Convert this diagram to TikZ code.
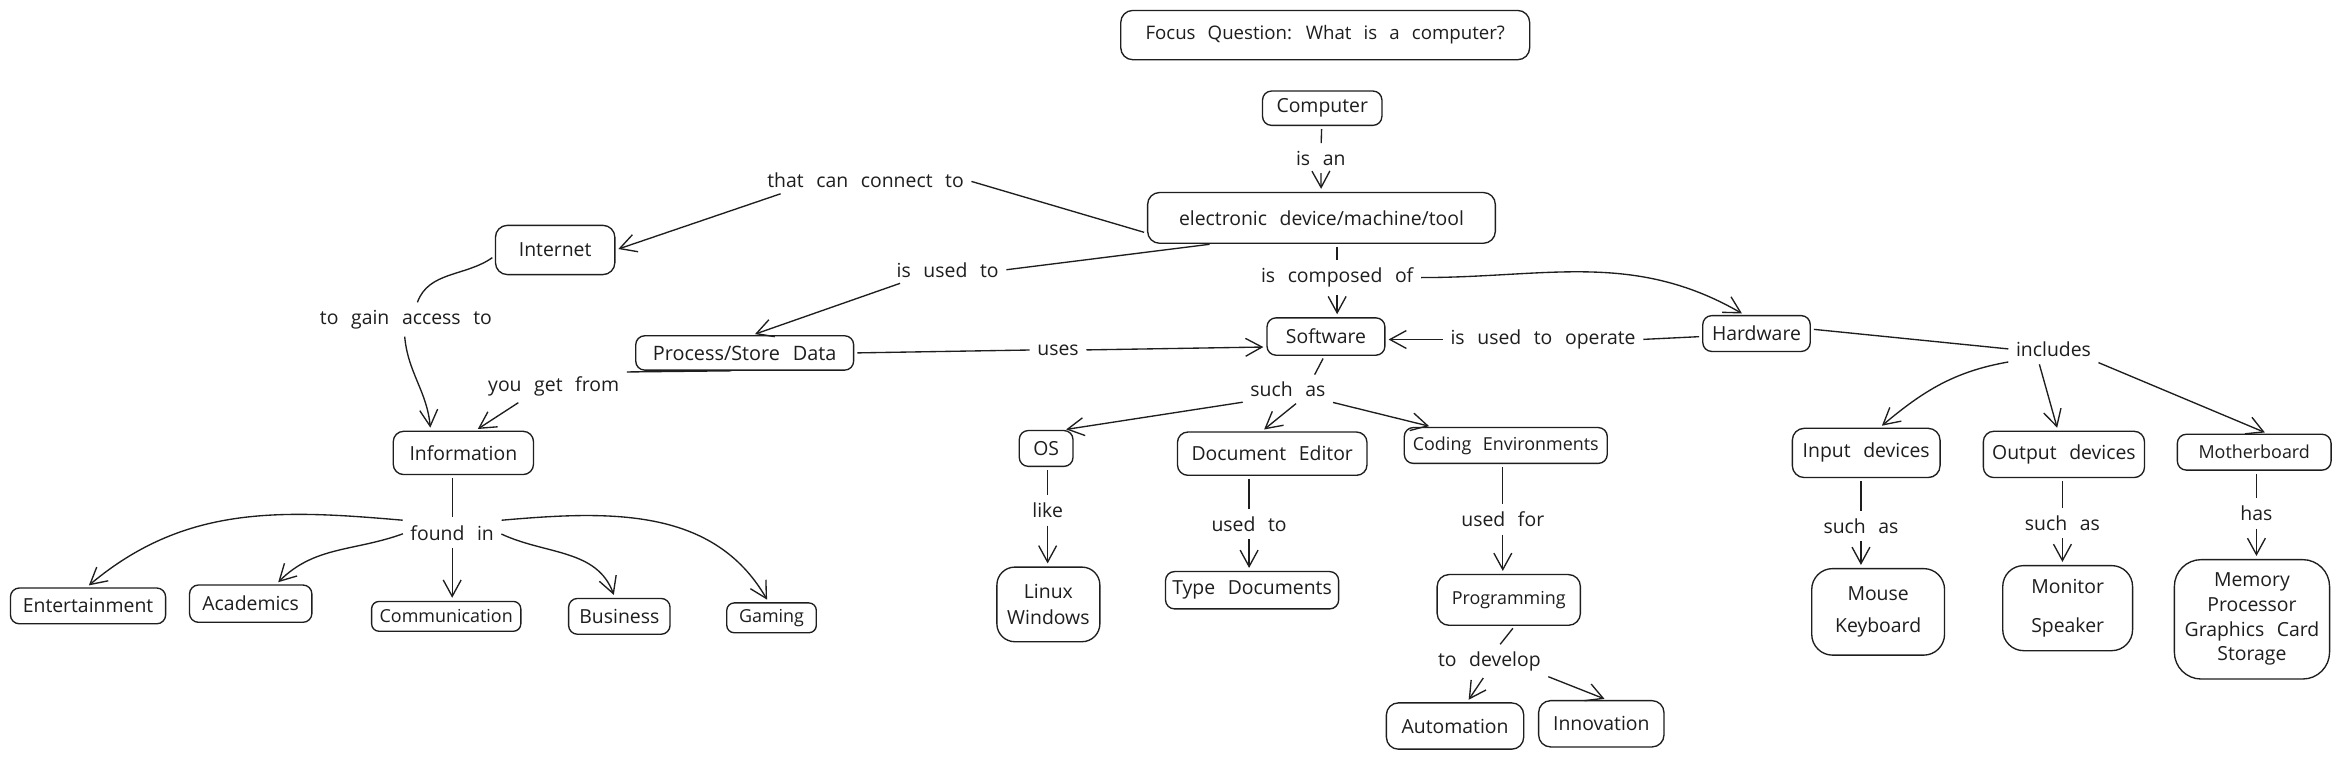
\documentclass[tikz,border=0pt]{standalone}
\usepackage{fontspec}
\setmainfont{Open Sans}
\usetikzlibrary{arrows.meta}
\definecolor{ink}{HTML}{1E1E1E}
\newcommand\myfs[1]{\fontsize{#1}{17}\selectfont\spaceskip=0.65em\relax}
\newcommand\memfs{\fontsize{13}{16.5}\selectfont\spaceskip=0.65em\relax}
\begin{document}
\begin{tikzpicture}[x=1pt,y=-1pt,
  font=\myfs{13},
  bx/.style n args={3}{draw=ink, line width=0.9pt, rounded corners=#3, minimum width=#1, minimum height=#2, inner sep=2pt, align=center, text=ink},
  sm/.style={font=\myfs{12}},
  lbl/.style={inner sep=3pt, text=ink},
  conn/.style={draw=ink, line width=0.9pt, shorten <=2pt, shorten >=2pt},
  arr/.style={conn, -{Straight Barb[length=11pt,width=12pt]}},
]
\fill[white] (0,0) rectangle (1568,508.6);
\useasboundingbox (0,0) rectangle (1568,508.6);

% boxes
\node[bx={274pt}{33pt}{8pt}, font=\myfs{12.5}] (focus) at (888,23.5) {Focus Question: What is a computer?};
\node[bx={80pt}{23pt}{6pt}] (computer) at (886,72.5) {Computer};
\node[bx={233pt}{34pt}{8pt}] (device) at (885.5,146) {electronic device/machine/tool};
\node[bx={80pt}{33pt}{8pt}] (internet) at (372,167.5) {Internet};
\node[bx={146pt}{23pt}{6pt}, font=\myfs{13.3}] (process) at (499,236.5) {Process/Store Data};
\node[bx={79pt}{25pt}{6pt}] (software) at (888.5,225.5) {Software};
\node[bx={72pt}{24pt}{6pt}] (hardware) at (1177,223.5) {Hardware};
\node[bx={94pt}{29pt}{7pt}] (information) at (310.5,303.5) {Information};
\node[bx={36pt}{24pt}{6pt}] (os) at (701,300.5) {OS};
\node[bx={127pt}{29pt}{7pt}] (doced) at (852.5,304) {Document Editor};
\node[bx={136pt}{24pt}{6pt}, sm] (coding) at (1009,298.5) {Coding Environments};
\node[bx={69pt}{50pt}{12pt}] (linux) at (702.5,405) {Linux\\Windows};
\node[bx={116pt}{25pt}{6pt}] (typedoc) at (839,395.5) {Type Documents};
\node[bx={96pt}{34pt}{8pt}, sm] (programming) at (1011,402) {Programming};
\node[bx={92pt}{31pt}{8pt}] (automation) at (975,486.5) {Automation};
\node[bx={84pt}{31pt}{8pt}] (innovation) at (1073,485) {Innovation};
\node[bx={104pt}{24pt}{6pt}] (entertainment) at (59,406) {Entertainment};
\node[bx={82pt}{25pt}{6pt}] (academics) at (168,404.5) {Academics};
\node[bx={100pt}{20pt}{5pt}, sm] (communication) at (299,413) {Communication};
\node[bx={68pt}{24pt}{6pt}] (business) at (415,413) {Business};
\node[bx={60pt}{20pt}{5pt}, sm] (gaming) at (517,414) {Gaming};
\node[bx={99pt}{33pt}{8pt}] (input) at (1250.5,303.5) {Input devices};
\node[bx={108pt}{31pt}{7pt}] (output) at (1383,304.5) {Output devices};
\node[bx={103pt}{24pt}{6pt}, sm] (motherboard) at (1510.5,303) {Motherboard};
\node[bx={89pt}{58pt}{14pt}] (mouse) at (1258.5,410) {Mouse\\[5pt]Keyboard};
\node[bx={87pt}{57pt}{14pt}] (monitor) at (1385.5,407.5) {Monitor\\[9pt]Speaker};
\node[bx={104pt}{80pt}{18pt}, font=\memfs] (memory) at (1509,415) {Memory\\Processor\\Graphics Card\\Storage};

% labels
\node[lbl] (isan) at (885,106) {is an};
\node[lbl] (thatcan) at (580,121) {that can connect to};
\node[lbl] (isusedto) at (635,181) {is used to};
\node[lbl] (compof) at (896,186) {is composed of};
\node[lbl] (uses) at (709,234.5) {uses};
\node[lbl] (operate) at (1034,227.5) {is used to operate};
\node[lbl] (gain) at (272,214) {to gain access to};
\node[lbl] (getfrom) at (371,259) {you get from};
\node[lbl] (suchas1) at (863,261) {such as};
\node[lbl] (like) at (702,342) {like};
\node[lbl] (usedto) at (837,351) {used to};
\node[lbl] (usedfor) at (1007,348) {used for};
\node[lbl] (todevelop) at (998,443) {to develop};
\node[lbl] (foundin) at (303,357) {found in};
\node[lbl] (includes) at (1376,234) {includes};
\node[lbl] (suchas2) at (1247,352.5) {such as};
\node[lbl] (suchas3) at (1382,350.5) {such as};
\node[lbl] (has) at (1512,344) {has};

% connectors
\draw[conn] (computer) -- (isan);
\draw[arr] (isan) -- (device);
\draw[conn] (device.185) -- (thatcan.east);
\draw[arr] ([xshift=14pt]thatcan.south west) -- (internet.east);
\draw[conn] ([xshift=-73pt]device.south) -- (isusedto.east);
\draw[arr] ([xshift=-30pt]isusedto.south) -- ([xshift=5pt]process.north);
\draw[conn] (compof.north |- device.south) -- (compof.north);
\draw[arr] (compof.south) -- (compof.south |- software.north);
\draw[arr] (compof.east) to[out=0,in=150] ([xshift=-8pt]hardware.north);
\draw[conn] (process.east) -- (uses.west);
\draw[arr] (uses.east) -- ([yshift=-7pt]software.west);
\draw[conn] ([yshift=-2pt]hardware.west) -- (operate.east);
\draw[arr] (operate.west) -- ([yshift=-2pt]software.east);

\draw[conn] ([yshift=-4pt]internet.west) to[out=215,in=70] ([xshift=7pt]gain.north);
\draw[arr] ([xshift=-1pt]gain.south) to[out=-85,in=95] ([xshift=-22pt]information.north);
\draw[conn] ([xshift=-7pt]process.south) -- (getfrom.north east);
\draw[arr] ([xshift=-22pt]getfrom.south) -- ([xshift=8pt]information.north);

\draw[conn] ([xshift=-1pt]software.south) -- ([xshift=17pt]suchas1.north);
\draw[arr] (suchas1.south west) -- ([xshift=-7pt]os.north east);
\draw[arr] ([xshift=7pt]suchas1.south) -- ([xshift=-7pt]doced.north);
\draw[arr] (suchas1.south east) -- ([xshift=19pt]coding.north west);

\draw[conn] (like |- os.south) -- (like);
\draw[arr] (like) -- (like |- linux.north);
\draw[conn] (usedto |- doced.south) -- (usedto);
\draw[arr] (usedto) -- (usedto |- typedoc.north);
\draw[conn] (usedfor |- coding.south) -- (usedfor);
\draw[arr] (usedfor) -- (usedfor |- programming.north);
\draw[conn] ([xshift=4pt]programming.south) -- ([xshift=6pt]todevelop.north);
\draw[arr] ([xshift=-3pt]todevelop.south) -- ([xshift=8pt]automation.north);
\draw[arr] (todevelop.south east) -- ([xshift=4pt]innovation.north);

\draw[conn] (foundin |- information.south) -- (foundin);
\draw[arr] (foundin.north west) to[out=175,in=40] ([xshift=-1pt]entertainment.north);
\draw[arr] (foundin.west) to[out=200,in=45] ([xshift=17pt]academics.north);
\draw[arr] (foundin.south) -- (foundin.south |- communication.north);
\draw[arr] (foundin.east) to[out=-25,in=110] ([xshift=-3pt]business.north);
\draw[arr] (foundin.north east) to[out=5,in=120] ([xshift=-2pt]gaming.north);

\draw[conn] ([yshift=3pt]hardware.east) -- (includes.west);
\draw[arr] (includes.south west) to[out=190,in=40] ([xshift=9pt]input.north);
\draw[arr] ([xshift=-10pt]includes.south) -- ([xshift=-4pt]output.north);
\draw[arr] (includes.south east) -- ([xshift=9pt]motherboard.north);

\draw[conn] (suchas2 |- input.south) -- (suchas2);
\draw[arr] (suchas2) -- (suchas2 |- mouse.north);
\draw[conn] (suchas3 |- output.south) -- (suchas3);
\draw[arr] (suchas3) -- (suchas3 |- monitor.north);
\draw[conn] (has |- motherboard.south) -- (has);
\draw[arr] (has) -- (has |- memory.north);
\end{tikzpicture}
\end{document}
